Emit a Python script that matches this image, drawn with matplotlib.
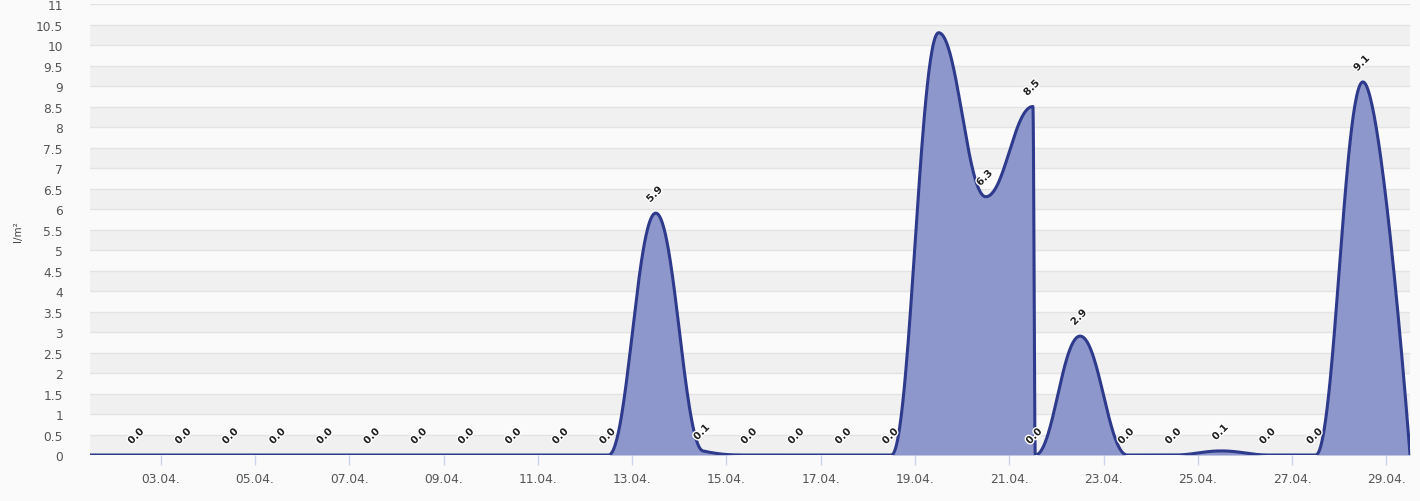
import numpy as np
import matplotlib
matplotlib.use("Agg")
import matplotlib.pyplot as plt
import matplotlib.patheffects as pe

# daily precipitation, points at noon of each day of April
days = [1, 2, 3, 4, 5, 6, 7, 8, 9, 10, 11, 12, 13, 14, 15, 16, 17, 18, 19, 20,
        21, 21.05, 22, 23, 24, 25, 26, 27, 28, 29]
rain = [0.0, 0.0, 0.0, 0.0, 0.0, 0.0, 0.0, 0.0, 0.0, 0.0, 0.0, 0.0, 5.9, 0.1, 0.0,
        0.0, 0.0, 0.0, 10.3, 6.3, 8.5, 0.0, 2.9, 0.0, 0.0, 0.1, 0.0, 0.0, 9.1, 0.0]
hidden_labels = [1, 19, 29]
tick_days = [3, 5, 7, 9, 11, 13, 15, 17, 19, 21, 23, 25, 27, 29]
tick_labels = ["%02d.04." % d for d in tick_days]

FILL = "#8e97cb"
LINE = "#2e3a8c"


def spline_controls(xs, ys, smoothing=1.5):
    # same smoothing as a highcharts areaspline
    n = len(xs)
    left = [(xs[i], ys[i]) for i in range(n)]
    right = [(xs[i], ys[i]) for i in range(n)]
    denom = smoothing + 1
    for i in range(1, n - 1):
        px, py = xs[i], ys[i]
        lx, ly = xs[i - 1], ys[i - 1]
        nx, ny = xs[i + 1], ys[i + 1]
        lcx = (smoothing * px + lx) / denom
        lcy = (smoothing * py + ly) / denom
        rcx = (smoothing * px + nx) / denom
        rcy = (smoothing * py + ny) / denom
        corr = 0
        if rcx != lcx:
            corr = (rcy - lcy) * (rcx - px) / (rcx - lcx) + py - rcy
        lcy += corr
        rcy += corr
        if lcy > ly and lcy > py:
            lcy = max(ly, py)
            rcy = 2 * py - lcy
        elif lcy < ly and lcy < py:
            lcy = min(ly, py)
            rcy = 2 * py - lcy
        if rcy > ny and rcy > py:
            rcy = max(ny, py)
            lcy = 2 * py - rcy
        elif rcy < ny and rcy < py:
            rcy = min(ny, py)
            lcy = 2 * py - rcy
        left[i] = (lcx, lcy)
        right[i] = (rcx, rcy)
    return left, right


xs = [d + 0.5 for d in days]
left, right = spline_controls(xs, rain)
t = np.linspace(0, 1, 60)
cx, cy = [], []
for i in range(1, len(xs)):
    p0 = np.array([xs[i - 1], rain[i - 1]])
    p1 = np.array(right[i - 1])
    p2 = np.array(left[i])
    p3 = np.array([xs[i], rain[i]])
    seg = ((1 - t) ** 3)[:, None] * p0 + (3 * (1 - t) ** 2 * t)[:, None] * p1 \
        + (3 * (1 - t) * t ** 2)[:, None] * p2 + (t ** 3)[:, None] * p3
    cx.extend(seg[:, 0])
    cy.extend(seg[:, 1])

fig = plt.figure(figsize=(14.2, 5.02), dpi=100, facecolor="#fafafa")
ax = fig.add_axes([0.0634, 0.0916, 0.9296, 0.8984])
ax.set_facecolor("#fafafa")

ax.set_xlim(xs[0], xs[-1])
ax.set_ylim(0, 11)

# alternating bands and grid
for y0 in range(0, 11):
    ax.axhspan(y0, y0 + 0.5, color="#f0f0f0", zorder=0, lw=0)
for y in np.arange(0, 11.01, 0.5):
    ax.axhline(y, color="#e3e3e3", lw=1, zorder=0.5)

ax.fill_between(cx, 0, cy, color=FILL, lw=0, zorder=2)
ax.plot(cx, cy, color=LINE, lw=2.2, zorder=3, solid_capstyle="round")

for i, (x, v) in enumerate(zip(xs, rain)):
    if days[i] in hidden_labels:
        continue
    ax.annotate("%.1f" % v, (x, v), xytext=(-1, 13.5), textcoords="offset points",
                ha="center", va="center", rotation=45, fontsize=7.3,
                fontweight="bold", color="#222222", zorder=5,
                path_effects=[pe.withStroke(linewidth=2, foreground="white")])

ax.set_yticks(np.arange(0, 11.01, 0.5))
ax.set_yticklabels(["%g" % v for v in np.arange(0, 11.01, 0.5)])
ax.set_xticks(tick_days)
ax.set_xticklabels(tick_labels)
ax.tick_params(axis="y", length=0, pad=19.5, labelsize=8.8, labelcolor="#555555")
ax.tick_params(axis="x", length=7, width=1, color="#ccd6eb", pad=5,
               labelsize=8.8, labelcolor="#555555")
for s in ax.spines.values():
    s.set_visible(False)

fig.text(0.013, 0.538, "l/m²", rotation=90, fontsize=7.5, color="#444444",
         ha="center", va="center")

fig.savefig("out.png", dpi=100, facecolor=fig.get_facecolor())
